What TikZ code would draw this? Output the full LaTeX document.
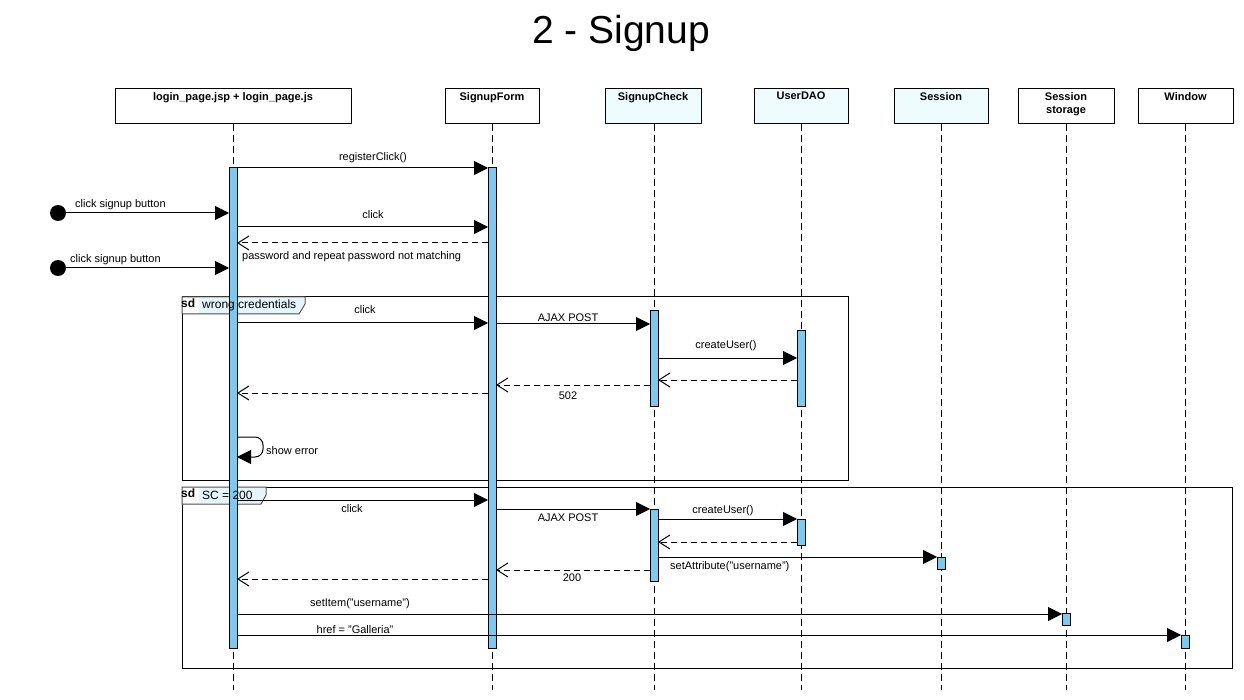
\documentclass[tikz,border=0pt]{standalone}
\usepackage{fontspec}
\setmainfont{Liberation Sans}
\usetikzlibrary{arrows.meta}
\definecolor{actblue}{HTML}{7CC9F1}
\definecolor{hdrfill}{HTML}{EEFCFF}
\definecolor{tabfill}{HTML}{E4F5FC}
\begin{document}
\begin{tikzpicture}[x=1pt,y=-1pt,
  hdr/.style={draw, line width=1pt, minimum height=35pt, inner sep=0pt},
  hdrtxt/.style={anchor=north, font=\fontsize{11}{13.5}\selectfont\bfseries, align=center, inner sep=0pt, yshift=-3.5pt},
  lifeline/.style={line width=0.9pt, dash pattern=on 7pt off 4pt},
  act/.style={draw, fill=actblue, line width=0.9pt, inner sep=0pt, minimum width=8pt},
  msg/.style={line width=1pt, -{Triangle[length=14pt,width=14pt]}},
  ret/.style={line width=1pt, dash pattern=on 6pt off 4pt, -{Straight Barb[length=11pt,width=14pt,line width=1pt]}},
  lbl/.style={font=\fontsize{11}{13}\selectfont, inner sep=1pt},
  tablbl/.style={font=\fontsize{12}{14}\selectfont, inner sep=1pt, anchor=west},
  sdlbl/.style={font=\fontsize{12}{14}\selectfont\bfseries, inner sep=1pt, anchor=west},
  frm/.style={draw, line width=1pt},
  tab/.style={draw=black!70, line width=1pt, fill=white},
  startdot/.style={circle, fill=black, minimum size=16pt, inner sep=0pt},
]
\fill[white] (0,0) rectangle (1244,700);
\useasboundingbox (0,0) rectangle (1244,700);

% title
\node[font=\fontsize{39}{44}\selectfont] (title) at (621,33) {2 - Signup};

% frames
\draw[frm] (182,297) rectangle (848,480);
\draw[tab] (182,297) -- (305,297) -- (305,304) -- (299,314) -- (182,314) -- cycle;
\fill[tabfill] (199,298) -- (304,298) -- (304,304) -- (298.5,313) -- (199,313) -- cycle;
\draw[frm] (182,487) rectangle (1232,668);
\draw[tab] (182,487) -- (266,487) -- (266,495) -- (261,504) -- (182,504) -- cycle;
\fill[tabfill] (199,488) -- (265,488) -- (265,495) -- (260.5,503) -- (199,503) -- cycle;

% header boxes
\node[hdr, minimum width=236pt] (login) at (233,106.5) {};
\node[hdr, minimum width=94pt] (form) at (492,106.5) {};
\node[hdr, minimum width=96pt, fill=hdrfill] (check) at (653,106.5) {};
\node[hdr, minimum width=94pt, fill=hdrfill] (dao) at (801,106.5) {};
\node[hdr, minimum width=94pt, fill=hdrfill] (sess) at (941,106.5) {};
\node[hdr, minimum width=96pt] (stor) at (1066,106.5) {};
\node[hdr, minimum width=95pt] (win) at (1185.5,106.5) {};
\node[hdrtxt] (loginT) at (login.north) {login\_page.jsp + login\_page.js};
\node[hdrtxt] (formT) at (form.north) {SignupForm};
\node[hdrtxt] (checkT) at (check.north) {SignupCheck};
\node[hdrtxt] (daoT) at (dao.north) {UserDAO};
\node[hdrtxt] (sessT) at (sess.north) {Session};
\node[hdrtxt] (storT) at (stor.north) {Session\\storage};
\node[hdrtxt] (winT) at (win.north) {Window};

% lifeline ends
\coordinate (loginE) at (233,690);
\coordinate (formE) at (492,690);
\coordinate (checkE) at (654,690);
\coordinate (daoE) at (801,690);
\coordinate (sessE) at (941,690);
\coordinate (storE) at (1066,690);
\coordinate (winE) at (1185,690);
\draw[lifeline] (233,124) -- (loginE);
\draw[lifeline] (492,124) -- (formE);
\draw[lifeline] (654,124) -- (checkE);
\draw[lifeline] (801,124) -- (daoE);
\draw[lifeline] (941,124) -- (sessE);
\draw[lifeline] (1066,124) -- (storE);
\draw[lifeline] (1185,124) -- (winE);

% activation bars
\node[act, minimum height=481pt] (aL) at (233,407.5) {};
\node[act, minimum height=481pt] (aF) at (492,407.5) {};
\node[act, minimum height=96pt] (aC1) at (654,358) {};
\node[act, minimum height=76pt] (aD1) at (801,368) {};
\node[act, minimum height=72pt] (aC2) at (654,545) {};
\node[act, minimum height=26pt] (aD2) at (801,532) {};
\node[act, minimum height=12pt] (aS) at (941,563) {};
\node[act, minimum height=12pt] (aST) at (1066,619) {};
\node[act, minimum height=13pt] (aW) at (1185,641.5) {};

% frame tab texts
\node[sdlbl] (sd1) at (180,303) {sd};
\node[tablbl] (f1lab) at (201,305) {wrong credentials};
\node[sdlbl] (sd2) at (180,493) {sd};
\node[tablbl] (f2lab) at (201,495) {SC = 200};

% message coordinates
\coordinate (m1a) at (237,168);  \coordinate (m1b) at (488,168);
\coordinate (c1b) at (229,213);
\coordinate (m2a) at (237,227);  \coordinate (m2b) at (488,227);
\coordinate (r1a) at (488,243);  \coordinate (r1b) at (237,243);
\coordinate (c2b) at (229,268);
\coordinate (m3a) at (237,323);  \coordinate (m3b) at (488,323);
\coordinate (m4a) at (496,324);  \coordinate (m4b) at (650,324);
\coordinate (m5a) at (658,358);  \coordinate (m5b) at (797,358);
\coordinate (r2a) at (797,380);  \coordinate (r2b) at (658,380);
\coordinate (r3a) at (650,385);  \coordinate (r3b) at (496,385);
\coordinate (r4a) at (488,393);  \coordinate (r4b) at (237,393);
\coordinate (s1a) at (237,437);  \coordinate (s1b) at (237,457);
\coordinate (s1c) at (263,437);  \coordinate (s1d) at (263,457);
\coordinate (m6a) at (237,500);  \coordinate (m6b) at (488,500);
\coordinate (m7a) at (496,509);  \coordinate (m7b) at (650,509);
\coordinate (m8a) at (658,519);  \coordinate (m8b) at (797,519);
\coordinate (r5a) at (797,542);  \coordinate (r5b) at (658,542);
\coordinate (m9a) at (658,557);  \coordinate (m9b) at (937,557);
\coordinate (r6a) at (650,570);  \coordinate (r6b) at (496,570);
\coordinate (r7a) at (488,579);  \coordinate (r7b) at (237,579);
\coordinate (m10a) at (237,614); \coordinate (m10b) at (1062,614);
\coordinate (m11a) at (237,635); \coordinate (m11b) at (1181,635);

% start dots
\node[startdot] (dot1) at (58,213) {};
\node[startdot] (dot2) at (58,268) {};

% messages
\draw[msg] (m1a) -- (m1b);
\node[lbl] (l1) at (373,158) {registerClick()};
\draw[msg] (dot1.center) -- (c1b);
\node[lbl, anchor=west] (lc1) at (74,205) {click signup button};
\draw[msg] (m2a) -- (m2b);
\node[lbl] (l2) at (373,215) {click};
\draw[ret] (r1a) -- (r1b);
\node[lbl, anchor=west] (lr1) at (241,257) {password and repeat password not matching};
\draw[msg] (dot2.center) -- (c2b);
\node[lbl, anchor=west] (lc2) at (69,260) {click signup button};

\draw[msg] (m3a) -- (m3b);
\node[lbl] (l3) at (365,310) {click};
\draw[msg] (m4a) -- (m4b);
\node[lbl] (l4) at (568,318) {AJAX POST};
\draw[msg] (m5a) -- (m5b);
\node[lbl] (l5) at (726,346) {createUser()};
\draw[ret] (r2a) -- (r2b);
\draw[ret] (r3a) -- (r3b);
\node[lbl] (l6) at (568,396) {502};
\draw[ret] (r4a) -- (r4b);
\draw[line width=1pt, rounded corners=8pt, -{Triangle[length=14pt,width=14pt]}] (s1a) -- (s1c) -- (s1d) -- (s1b);
\node[lbl, anchor=west] (l7) at (265,451) {show error};

\draw[msg] (m6a) -- (m6b);
\node[lbl] (l8) at (352,509) {click};
\draw[msg] (m7a) -- (m7b);
\node[lbl] (l9) at (568,518) {AJAX POST};
\draw[msg] (m8a) -- (m8b);
\node[lbl] (l10) at (723,511) {createUser()};
\draw[ret] (r5a) -- (r5b);
\draw[msg] (m9a) -- (m9b);
\node[lbl, anchor=west] (l11) at (669,567) {setAttribute("username")};
\draw[ret] (r6a) -- (r6b);
\node[lbl] (l12) at (572,578) {200};
\draw[ret] (r7a) -- (r7b);
\draw[msg] (m10a) -- (m10b);
\node[lbl] (l13) at (360,604) {setItem("username")};
\draw[msg] (m11a) -- (m11b);
\node[lbl] (l14) at (355,630) {href = "Galleria"};
\end{tikzpicture}
\end{document}
